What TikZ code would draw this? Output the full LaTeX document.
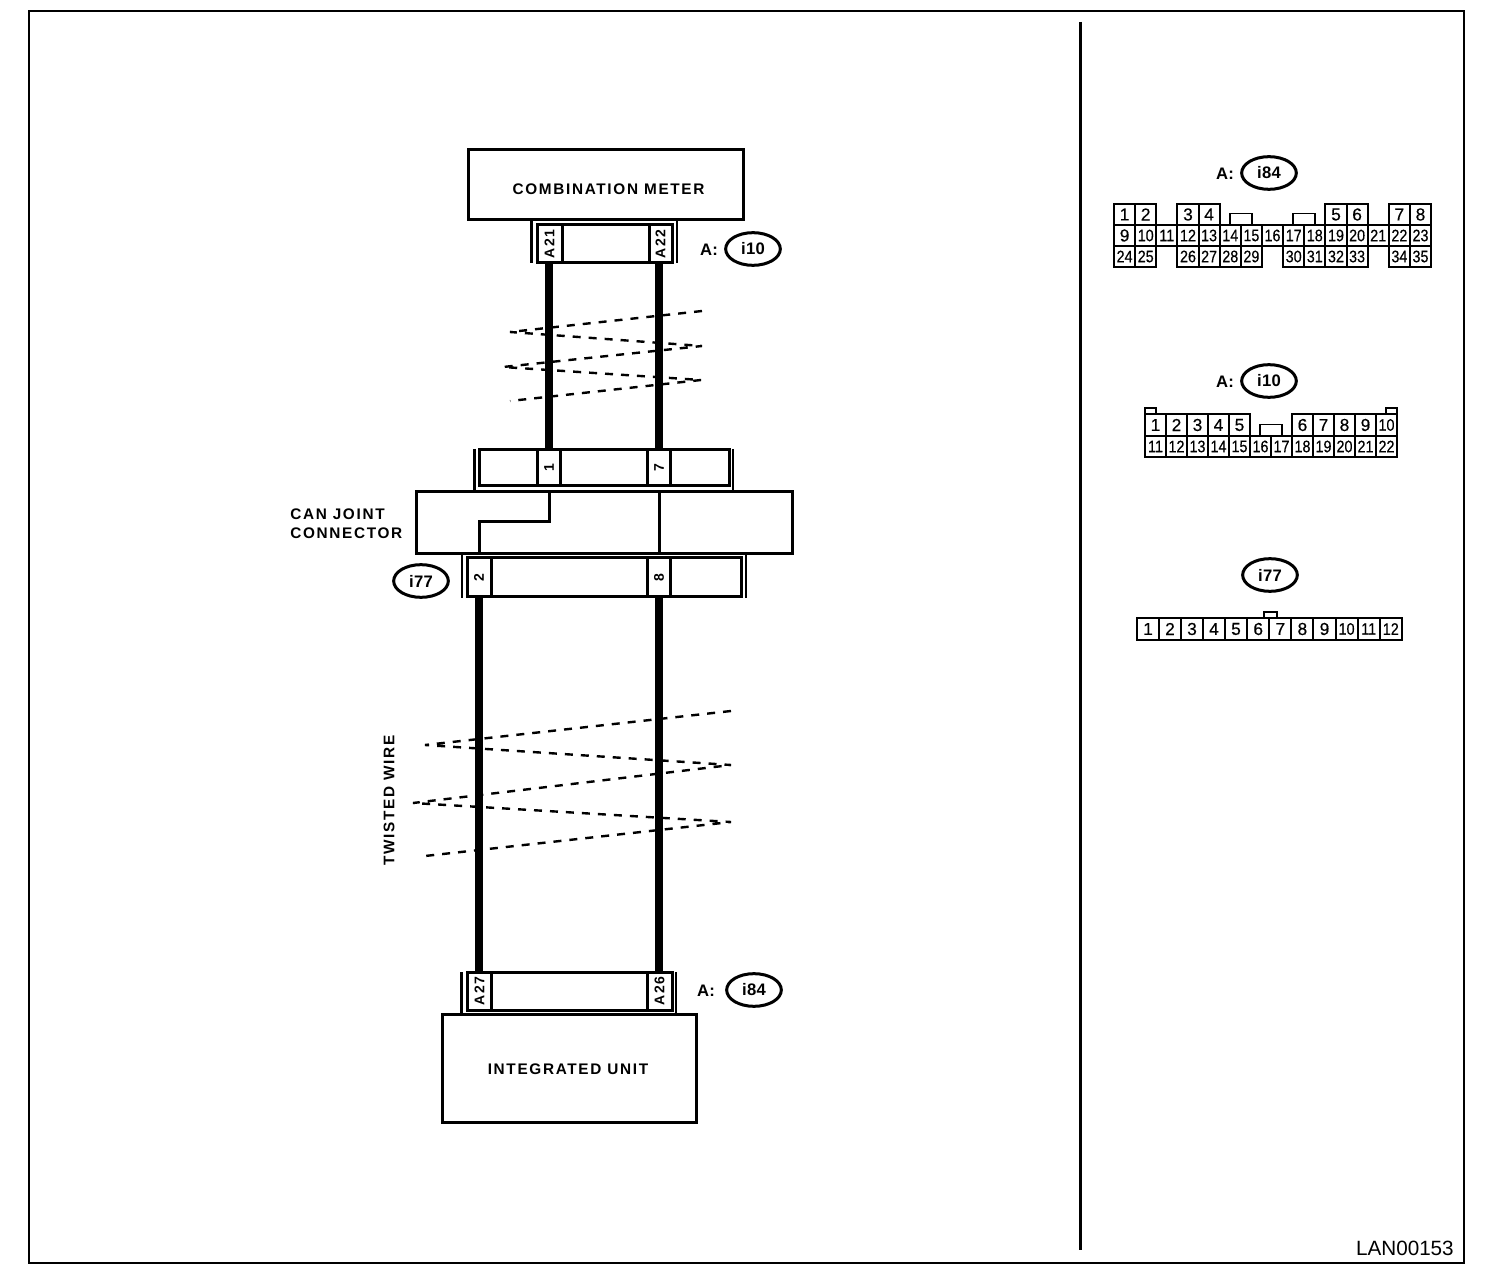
\documentclass[tikz,border=0pt]{standalone}
\usepackage{fontspec}
\setmainfont{Liberation Sans}
\newfontfamily\labelfont[LetterSpace=11]{Liberation Sans Bold}
\newfontfamily\ringfont[LetterSpace=2]{Liberation Sans Bold}
\newfontfamily\onefont[FakeBold=0.3]{Liberation Sans}
\newfontfamily\twofont[FakeStretch=0.86,FakeBold=0.3]{Liberation Sans}
\usetikzlibrary{shapes.geometric}
\tikzset{
  unitbox/.style={draw,line width=2.25,inner sep=0,outer sep=0},
  pinbox/.style={draw,fill=white,line width=2.25,inner sep=0,outer sep=0,font=\labelfont\fontsize{10.5}{12}\selectfont,rotate=90},
  wire/.style={line width=5.6},
  tie/.style={line width=2.25},
  bar/.style={line width=1.9},
  twist/.style={line width=1.8,dash pattern=on 6pt off 6pt},
  tag/.style={font=\labelfont\fontsize{11.5}{14.5}\selectfont,inner sep=0,align=left},
  ringtag/.style={font=\ringfont\fontsize{12.5}{14}\selectfont,inner sep=0},
  ring/.style={ellipse,draw,line width=2.25,minimum width=41,minimum height=24.5,inner sep=0,font=\ringfont\fontsize{12.5}{14}\selectfont},
  onecell/.style={rectangle,draw,fill=white,line width=1.5,minimum width=15.9,minimum height=15.9,inner sep=0,font=\onefont\fontsize{13}{13}\selectfont},
  twocell/.style={onecell,font=\twofont\fontsize{12.5}{13}\selectfont},
  wideone/.style={onecell,minimum width=16.6,minimum height=16.5},
  widetwo/.style={twocell,minimum width=16.6,minimum height=16.5},
  tabcell/.style={rectangle,draw,line width=1.2,inner sep=0}
}
\begin{document}
\begin{tikzpicture}[x=0.75pt,y=0.75pt,yscale=-1,xscale=1]
\useasboundingbox (0,0) rectangle (1504,1276);

%Frame and divider
\coordinate (frametl) at (29,11);
\coordinate (framebr) at (1464,1263);
\coordinate (divtop) at (1080,22);
\coordinate (divbot) at (1080,1250);
\draw [line width=1.5] (frametl) rectangle (framebr);
\draw [line width=2.25] (divtop) -- (divbot);

%Shape: Units
\node [unitbox,minimum width=206.25,minimum height=52.5] (meter) at (605.5,185) {};
\node [unitbox,minimum width=282,minimum height=46.5] (joint) at (604,523) {};
\node [unitbox,minimum width=190.5,minimum height=81] (unit) at (569,1068) {};

%Shape: Housings
\node [unitbox,minimum width=101.25,minimum height=28.5] (hsgmeter) at (604.5,244) {};
\node [unitbox,minimum width=187.5,minimum height=27] (hsgtop) at (604,467.5) {};
\node [unitbox,minimum width=205.5,minimum height=29.25] (hsgbot) at (604,577.5) {};
\node [unitbox,minimum width=153.75,minimum height=28.5] (hsgunit) at (569.5,991) {};

%Shape: Pins
\node [pinbox,minimum width=28.5,minimum height=18.75] (a21) at (549.5,244) {A21};
\node [pinbox,minimum width=28.5,minimum height=17.25] (a22) at (660.5,244) {A22};
\node [pinbox,minimum width=27,minimum height=17.25] (p1) at (549,467.5) {1};
\node [pinbox,minimum width=27,minimum height=17.25] (p7) at (659,467.5) {7};
\node [pinbox,minimum width=29.25,minimum height=18] (p2) at (479,577.5) {2};
\node [pinbox,minimum width=29.25,minimum height=17.25] (p8) at (659,577.5) {8};
\node [pinbox,minimum width=28.5,minimum height=18.5] (a27) at (479.5,991) {A27};
\node [pinbox,minimum width=28.5,minimum height=18.75] (a26) at (659.5,991) {A26};

%Straight Lines: housing side bars
\coordinate (m1) at (531.5,220);
\coordinate (m2) at (531.5,263);
\coordinate (m3) at (677,220);
\coordinate (m4) at (677,263);
\draw [bar] (m1) -- (m2);
\draw [bar] (m3) -- (m4);
\coordinate (t1) at (474.5,449);
\coordinate (t2) at (474.5,491);
\coordinate (t3) at (733,449);
\coordinate (t4) at (733,491);
\draw [bar] (t1) -- (t2);
\draw [bar] (t3) -- (t4);
\coordinate (b1) at (462,555);
\coordinate (b2) at (462,598);
\coordinate (b3) at (746,555);
\coordinate (b4) at (746,598);
\draw [bar] (b1) -- (b2);
\draw [bar] (b3) -- (b4);
\coordinate (u1) at (461.5,972);
\coordinate (u2) at (461.5,1014);
\coordinate (u3) at (676,972);
\coordinate (u4) at (676,1014);
\draw [bar] (u1) -- (u2);
\draw [bar] (u3) -- (u4);

%Straight Lines: wires
\draw [wire] (a21.west -| p1.east) -- (p1.east);
\draw [wire] (a22.west -| p7.east) -- (p7.east);
\draw [wire] (p2.west) -- (a27.east -| p2.west);
\draw [wire] (p8.west) -- (a26.east -| p8.west);
\draw [tie] (p1.west |- joint.north) -- ++(0,30) -| (p2.east |- joint.south);
\draw [tie] (p7.west |- joint.north) -- (p7.west |- joint.south);

%Dashed lines: twist marks
\coordinate (tw1) at (702,311);
\coordinate (tw2) at (510,332);
\coordinate (tw3) at (702,346);
\coordinate (tw4) at (503,367);
\coordinate (tw5) at (701,380);
\coordinate (tw6) at (510,401);
\draw [twist] (tw1) -- (tw2) -- (tw3) -- (tw4) -- (tw5) -- (tw6);
\coordinate (tx1) at (731,711);
\coordinate (tx2) at (425,745);
\coordinate (tx3) at (731,765);
\coordinate (tx4) at (413,803);
\coordinate (tx5) at (731,822);
\coordinate (tx6) at (425,856);
\draw [twist] (tx1) -- (tx2) -- (tx3) -- (tx4) -- (tx5) -- (tx6);

% Text Node
\node [tag] (metername) at (608.5,189) {COMBINATION METER};
\node [tag] (unitname) at (568,1069.5) {INTEGRATED UNIT};
\node [tag,anchor=west] (jointname) at (290,523.5) {CAN JOINT\\CONNECTOR};
\node [tag,rotate=90] (twistname) at (389,800.5) {TWISTED WIRE};
\node [font=\fontsize{15.5}{16}\selectfont,inner sep=0,anchor=east] (drawingno) at (1454,1248.5) {LAN00153};

% Rings beside the diagram
\node [ringtag] (tagi10) at (709,249.5) {A:};
\node [ring] (ringi10) at (753,249) {i10};
\node [ring] (ringi77) at (421,581) {i77};
\node [ringtag] (tagi84) at (706,991) {A:};
\node [ring] (ringi84) at (754,990) {i84};

% Rings above the connector faces
\node [ringtag] (faceai84) at (1225,174) {A:};
\node [ring] (facei84) at (1269,173) {i84};
\node [ringtag] (faceai10) at (1225,382) {A:};
\node [ring] (facei10) at (1269,381) {i10};
\node [ring] (facei77) at (1270,575) {i77};

%Shape: tabs
\node [tabcell,minimum width=16.5,minimum height=9] (taba) at (1241,219.5) {};
\node [tabcell,minimum width=16.5,minimum height=9] (tabb) at (1304,219.5) {};
\node [tabcell,minimum width=8.25,minimum height=4.5] (tabc) at (1150.5,411) {};
\node [tabcell,minimum width=8.25,minimum height=4.5] (tabd) at (1391.5,411) {};
\node [tabcell,minimum width=16.5,minimum height=9] (tabe) at (1271,430.5) {};
\node [tabcell,minimum width=9.75,minimum height=4.5] (tabf) at (1270.5,615) {};

%Connector face i84
\node [onecell] (ca1) at (1124.6,214.5) {1};
\node [onecell] (ca2) at (1145.7,214.5) {2};
\node [onecell] (ca3) at (1188,214.5) {3};
\node [onecell] (ca4) at (1209.1,214.5) {4};
\node [onecell] (ca5) at (1336,214.5) {5};
\node [onecell] (ca6) at (1357.1,214.5) {6};
\node [onecell] (ca7) at (1399.4,214.5) {7};
\node [onecell] (ca8) at (1420.5,214.5) {8};
\node [onecell] (ca9) at (1124.6,235.5) {9};
\node [twocell] (ca10) at (1145.7,235.5) {10};
\node [twocell] (ca11) at (1166.8,235.5) {11};
\node [twocell] (ca12) at (1188,235.5) {12};
\node [twocell] (ca13) at (1209.1,235.5) {13};
\node [twocell] (ca14) at (1230.3,235.5) {14};
\node [twocell] (ca15) at (1251.4,235.5) {15};
\node [twocell] (ca16) at (1272.5,235.5) {16};
\node [twocell] (ca17) at (1293.7,235.5) {17};
\node [twocell] (ca18) at (1314.8,235.5) {18};
\node [twocell] (ca19) at (1336,235.5) {19};
\node [twocell] (ca20) at (1357.1,235.5) {20};
\node [twocell] (ca21) at (1378.2,235.5) {21};
\node [twocell] (ca22) at (1399.4,235.5) {22};
\node [twocell] (ca23) at (1420.5,235.5) {23};
\node [twocell] (ca24) at (1124.6,256.5) {24};
\node [twocell] (ca25) at (1145.7,256.5) {25};
\node [twocell] (ca26) at (1188,256.5) {26};
\node [twocell] (ca27) at (1209.1,256.5) {27};
\node [twocell] (ca28) at (1230.3,256.5) {28};
\node [twocell] (ca29) at (1251.4,256.5) {29};
\node [twocell] (ca30) at (1293.7,256.5) {30};
\node [twocell] (ca31) at (1314.8,256.5) {31};
\node [twocell] (ca32) at (1336,256.5) {32};
\node [twocell] (ca33) at (1357.1,256.5) {33};
\node [twocell] (ca34) at (1399.4,256.5) {34};
\node [twocell] (ca35) at (1420.5,256.5) {35};

%Connector face i10
\node [onecell] (cb1) at (1155.5,425) {1};
\node [onecell] (cb2) at (1176.5,425) {2};
\node [onecell] (cb3) at (1197.5,425) {3};
\node [onecell] (cb4) at (1218.5,425) {4};
\node [onecell] (cb5) at (1239.5,425) {5};
\node [onecell] (cb6) at (1302.5,425) {6};
\node [onecell] (cb7) at (1323.5,425) {7};
\node [onecell] (cb8) at (1344.5,425) {8};
\node [onecell] (cb9) at (1365.5,425) {9};
\node [twocell] (cb10) at (1386.5,425) {10};
\node [twocell] (cb11) at (1155.5,446.5) {11};
\node [twocell] (cb12) at (1176.5,446.5) {12};
\node [twocell] (cb13) at (1197.5,446.5) {13};
\node [twocell] (cb14) at (1218.5,446.5) {14};
\node [twocell] (cb15) at (1239.5,446.5) {15};
\node [twocell] (cb16) at (1260.5,446.5) {16};
\node [twocell] (cb17) at (1281.5,446.5) {17};
\node [twocell] (cb18) at (1302.5,446.5) {18};
\node [twocell] (cb19) at (1323.5,446.5) {19};
\node [twocell] (cb20) at (1344.5,446.5) {20};
\node [twocell] (cb21) at (1365.5,446.5) {21};
\node [twocell] (cb22) at (1386.5,446.5) {22};

%Connector face i77
\node [wideone] (cc1) at (1148,629) {1};
\node [wideone] (cc2) at (1170,629) {2};
\node [wideone] (cc3) at (1192,629) {3};
\node [wideone] (cc4) at (1214,629) {4};
\node [wideone] (cc5) at (1236,629) {5};
\node [wideone] (cc6) at (1258.2,629) {6};
\node [wideone] (cc7) at (1280.3,629) {7};
\node [wideone] (cc8) at (1302.4,629) {8};
\node [wideone] (cc9) at (1324.5,629) {9};
\node [widetwo] (cc10) at (1346.6,629) {10};
\node [widetwo] (cc11) at (1368.7,629) {11};
\node [widetwo] (cc12) at (1390.8,629) {12};

\end{tikzpicture}
\end{document}
